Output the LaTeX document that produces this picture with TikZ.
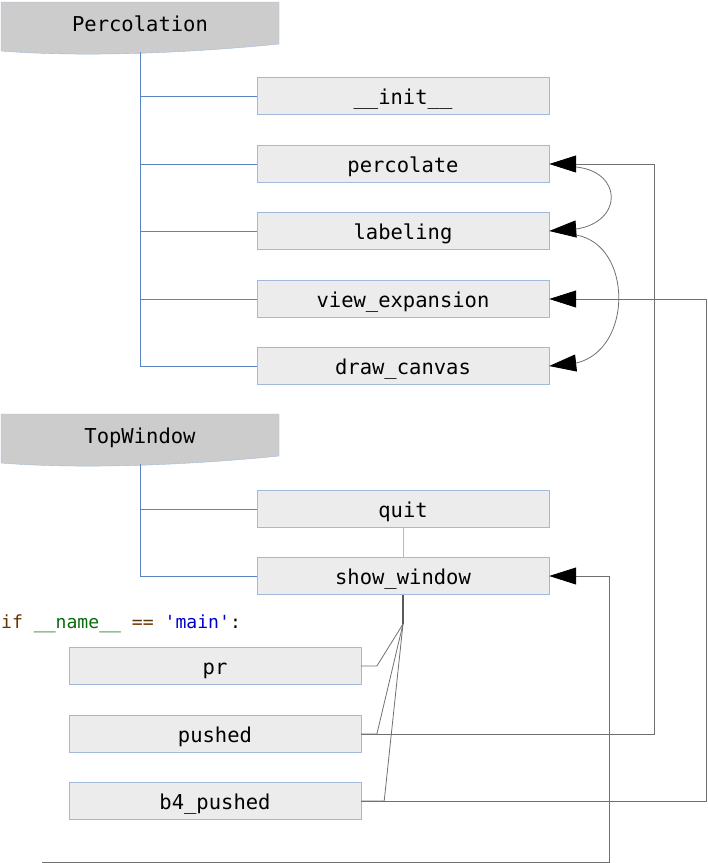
\documentclass[tikz,border=0pt]{standalone}
\usepackage{fontspec}
\newfontfamily\mono{DejaVu Sans Mono}
\usetikzlibrary{arrows.meta,calc}
\definecolor{boxfill}{HTML}{ECECEC}
\definecolor{boxline}{HTML}{A3B9D9}
\definecolor{hdrfill}{HTML}{CCCCCC}
\definecolor{treeline}{HTML}{5B84C4}
\definecolor{conn}{HTML}{707070}
\definecolor{kw}{HTML}{663300}
\definecolor{nm}{HTML}{0B6B0B}
\definecolor{st}{HTML}{0000CC}
\begin{document}
\begin{tikzpicture}[x=1pt,y=-1pt,
  box/.style={draw=boxline, fill=boxfill, minimum width=292pt, minimum height=37pt,
    inner sep=0pt, font=\mono\fontsize{20.5}{24}\selectfont, text height=16pt, text depth=0pt},
  hdrtxt/.style={minimum width=278pt, minimum height=50pt, inner sep=0pt,
    font=\mono\fontsize{20.5}{24}\selectfont, text height=15.6pt, text depth=6pt},
  hdrshape/.style={draw=boxline, fill=hdrfill},
  tree/.style={draw=treeline, line width=0.8pt},
  link/.style={draw=conn, line width=0.8pt},
  arr/.style={link, -{Triangle[length=27pt,width=17pt,color=black]}},
]
\useasboundingbox (0,0) rectangle (708,863);

% headers
\draw[hdrshape] (1,2) -- (279,2) -- (279,44) .. controls (200,52) and (90,58) .. (1,51) -- cycle;
\node[hdrtxt] (perc) at (140,27) {Percolation};
\draw[hdrshape] (1,414) -- (279,414) -- (279,456) .. controls (200,464) and (90,470) .. (1,463) -- cycle;
\node[hdrtxt] (topw) at (140,439) {TopWindow};

% method boxes
\node[box] (init) at (403,96) {\_\_init\_\_};
\node[box] (percolate) at (403,164) {percolate};
\node[box] (labeling) at (403,231) {labeling};
\node[box] (viewexp) at (403,299) {view\_expansion};
\node[box] (drawc) at (403,366) {draw\_canvas};
\node[box] (quit) at (403,509) {quit};
\node[box] (show) at (403,576) {show\_window};

% main section
\node[anchor=base west, inner sep=0pt, font=\mono\fontsize{18.1}{22}\selectfont] (code) at (1,628.3)
  {\textcolor{kw}{if} \textcolor{nm}{\_\_name\_\_} \textcolor{kw}{==} \textcolor{st}{\textquotesingle main\textquotesingle}:};
\node[box] (pr) at (215,666) {pr};
\node[box] (pushed) at (215,734) {pushed};
\node[box] (b4) at (215,801) {b4\_pushed};

% tree lines
\foreach \n in {init,percolate,labeling,viewexp,drawc}
  \draw[tree] (perc.south) |- (\n.west);
\foreach \n in {quit,show}
  \draw[tree] (topw.south) |- (\n.west);

% quit - show_window
\draw[draw=gray!55, line width=1pt] (quit.south) -- (show.north);

% fan from show_window
\coordinate (fan) at (403,624);
\draw[draw=conn!80!black, line width=1.6pt] (show.south) -- (fan);
\draw[link] (fan) -- ([xshift=15.7pt]pr.east) -- (pr.east);
\draw[link] (fan) -- ([xshift=15.7pt]pushed.east) -- (pushed.east);
\draw[link] (fan) -- ([xshift=23pt]b4.east) -- (b4.east);

% long connectors
\draw[arr] (pushed.east) -| ([xshift=105pt]percolate.east) -- (percolate.east);
\draw[arr] (b4.east) -| ([xshift=157pt]viewexp.east) -- (viewexp.east);
\coordinate (c0) at (42,862);
\draw[arr] (c0) -| ([xshift=60pt]show.east) -- (show.east);

% curved arrows
\draw[arr] ([shift={(27pt,-3pt)}]percolate.east) .. controls (623,172) and (623,222) .. ([shift={(27pt,2pt)}]labeling.east) -- (labeling.east);
\draw[arr] ([shift={(27pt,-4pt)}]labeling.east) .. controls (633,245) and (633,350) .. ([shift={(27pt,3pt)}]drawc.east) -- (drawc.east);
\end{tikzpicture}
\end{document}
